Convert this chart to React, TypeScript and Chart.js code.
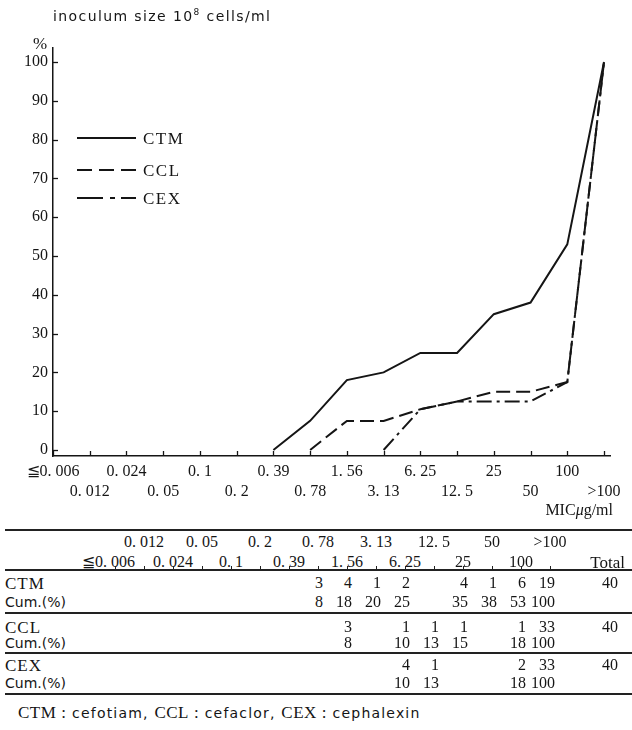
import React, { useEffect, useRef } from "react";
import { Chart, registerables } from "chart.js";

Chart.register(...registerables);

// ---------- data ----------
const categories = [
  "≦0. 006", "0. 012", "0. 024", "0. 05", "0. 1", "0. 2", "0. 39", "0. 78",
  "1. 56", "3. 13", "6. 25", "12. 5", "25", "50", "100", ">100",
];
const yTickValues = [0, 10, 20, 30, 40, 50, 60, 70, 80, 90, 100];

const seriesNames = ["CTM", "CCL", "CEX"];
const drugNames = ["cefotiam", "cefaclor", "cephalexin"];
// cumulative % (null = no point)
const ctmCurve = [null, null, null, null, null, null, 0, 7.5, 18, 20, 25, 25, 35, 38, 53, 100];
const cclCurve = [null, null, null, null, null, null, null, 0, 7.5, 7.5, 10.5, 12.5, 15, 15, 17.5, 100];
const cexCurve = [null, null, null, null, null, null, null, null, null, 0, 10.5, 12.5, 12.5, 12.5, 17.5, 100];

// table rows
const ctmCount = ["", "", "", "", "", "", "", "3", "4", "1", "2", "", "4", "1", "6", "19"];
const ctmCum = ["", "", "", "", "", "", "", "8", "18", "20", "25", "", "35", "38", "53", "100"];
const cclCount = ["", "", "", "", "", "", "", "", "3", "", "1", "1", "1", "", "1", "33"];
const cclCum = ["", "", "", "", "", "", "", "", "8", "", "10", "13", "15", "", "18", "100"];
const cexCount = ["", "", "", "", "", "", "", "", "", "", "4", "1", "", "", "2", "33"];
const cexCum = ["", "", "", "", "", "", "", "", "", "", "10", "13", "", "", "18", "100"];
const totals = ["40", "40", "40"];

const SERIF = '"Liberation Serif", "DejaVu Serif", serif';
const SANS = '"DejaVu Sans", sans-serif';
const INK = "#151515";

const dashes = [[], [14, 6], [15, 5, 3, 5]];
const legendDashes = [[], [15, 7], [26, 7, 5, 6]];

const decorPlugin = {
  id: "decor",
  afterDraw(chart: any) {
    const { ctx, chartArea, scales } = chart;
    const x = scales.x;
    const y = scales.y;
    ctx.save();
    ctx.strokeStyle = INK;
    ctx.lineWidth = 1.3;
    // y tick marks (inside)
    yTickValues.forEach((v) => {
      const py = Math.round(y.getPixelForValue(v)) + 0.5;
      ctx.beginPath();
      ctx.moveTo(chartArea.left, py);
      ctx.lineTo(chartArea.left + 5, py);
      ctx.stroke();
    });
    // x tick marks (upward)
    categories.forEach((_, i) => {
      const px = Math.round(x.getPixelForValue(i)) + 0.5;
      ctx.beginPath();
      ctx.moveTo(px, chartArea.bottom);
      ctx.lineTo(px, chartArea.bottom - 5);
      ctx.stroke();
    });
    // legend
    const lx0 = chartArea.left + 24;
    const lx1 = chartArea.left + 83;
    const lys = [138, 170, 198];
    ctx.lineWidth = 2;
    ctx.font = `17px ${SERIF}`;
    ctx.fillStyle = INK;
    ctx.textBaseline = "middle";
    try { (ctx as any).letterSpacing = "1.5px"; } catch (e) {}
    seriesNames.forEach((name, k) => {
      ctx.setLineDash(legendDashes[k]);
      ctx.beginPath();
      ctx.moveTo(lx0, lys[k]);
      ctx.lineTo(lx1, lys[k]);
      ctx.stroke();
      ctx.setLineDash([]);
      ctx.fillText(name, lx1 + 7, lys[k] + 2);
    });
    ctx.restore();
  },
};

function ChartCanvas() {
  const ref = useRef<HTMLCanvasElement | null>(null);
  useEffect(() => {
    if (!ref.current) return;
    const curves = [ctmCurve, cclCurve, cexCurve];
    const chart = new Chart(ref.current, {
      type: "line",
      data: {
        datasets: curves.map((arr, k) => ({
          label: seriesNames[k],
          data: arr.map((v, i) => ({ x: i, y: v })),
          borderColor: INK,
          borderWidth: 2,
          borderDash: dashes[k],
          pointRadius: 0,
          tension: 0,
          fill: false,
          spanGaps: false,
        })),
      },
      options: {
        animation: false,
        responsive: false,
        maintainAspectRatio: false,
        layout: { padding: { top: 48, right: 22, left: 0, bottom: 0 } },
        plugins: { legend: { display: false }, tooltip: { enabled: false } },
        scales: {
          x: {
            type: "linear",
            min: 0,
            max: 15.163,
            afterBuildTicks: (s: any) => {
              s.ticks = categories.map((_, i) => ({ value: i }));
            },
            afterFit: (s: any) => {
              s.height = 74;
            },
            grid: { display: false, drawTicks: false },
            border: { display: true, color: INK, width: 1.5 },
            ticks: {
              autoSkip: false,
              maxRotation: 0,
              minRotation: 0,
              padding: 6,
              color: INK,
              font: { family: SERIF, size: 16, lineHeight: 1.25 },
              callback: (v: any) => {
                const i = Math.round(Number(v));
                return i % 2 === 0 ? categories[i] : ["", categories[i]];
              },
            },
          },
          y: {
            type: "linear",
            min: -1.55,
            max: 103.6,
            afterBuildTicks: (s: any) => {
              s.ticks = yTickValues.map((v) => ({ value: v }));
            },
            afterFit: (s: any) => {
              s.width = 53;
            },
            grid: { display: false, drawTicks: false },
            border: { display: true, color: INK, width: 1.5 },
            ticks: {
              padding: 5,
              color: INK,
              font: { family: SERIF, size: 16 },
            },
          },
        },
      },
      plugins: [decorPlugin],
    } as any);
    return () => chart.destroy();
  }, []);
  return <canvas ref={ref} width={632} height={530} style={{ display: "block", width: 632, height: 530 }} />;
}

const colX = (i: number) => 115 + 29 * i;

const abs = (extra: React.CSSProperties): React.CSSProperties => ({
  position: "absolute",
  whiteSpace: "nowrap",
  lineHeight: 1,
  color: INK,
  ...extra,
});

function Rule({ y }: { y: number }) {
  return <div style={{ position: "absolute", left: 5, width: 627, top: y - 1, height: 2, background: "#222" }} />;
}

function NumRow({ values, y }: { values: string[]; y: number }) {
  return (
    <>
      {values.map((v, i) =>
        v ? (
          <span
            key={i}
            style={abs({
              left: colX(i) + 5,
              top: y,
              transform: "translate(-100%, -50%)",
              fontFamily: SERIF,
              fontSize: 16,
            })}
          >
            {v}
          </span>
        ) : null
      )}
    </>
  );
}

function Table() {
  const groups = [
    { name: "CTM", count: ctmCount, cum: ctmCum, y: 583 },
    { name: "CCL", count: cclCount, cum: cclCum, y: 627 },
    { name: "CEX", count: cexCount, cum: cexCum, y: 665 },
  ];
  const cumDy = [19, 16, 18];
  return (
    <>
      <Rule y={530} />
      {categories.map((c, i) => {
        const y = i % 2 === 1 ? 542 : 562;
        if (c.startsWith("≦")) {
          return (
            <span key={i} style={abs({ left: colX(i), top: y, transform: "translate(-50%, -50%)", fontFamily: SERIF, fontSize: 16 })}>
              <span style={{ position: "absolute", right: "100%", top: 0 }}>≦</span>
              {c.slice(1)}
            </span>
          );
        }
        return (
          <span key={i} style={abs({ left: colX(i), top: y, transform: "translate(-50%, -50%)", fontFamily: SERIF, fontSize: 16 })}>
            {c}
          </span>
        );
      })}
      <span style={abs({ left: 625, top: 562, transform: "translate(-100%, -50%)", fontFamily: SERIF, fontSize: 17 })}>Total</span>
      <Rule y={570} />
      {categories.map((_, i) => (
        <div key={i} style={{ position: "absolute", left: colX(i), top: 566, width: 1, height: 4, background: "#222" }} />
      ))}
      {groups.map((g, k) => (
        <React.Fragment key={g.name}>
          <span style={abs({ left: 5, top: g.y, transform: "translateY(-50%)", fontFamily: SERIF, fontSize: 17, letterSpacing: 1 })}>{g.name}</span>
          <span style={abs({ left: 5, top: g.y + cumDy[k], transform: "translateY(-50%)", fontFamily: SANS, fontSize: 14 })}>Cum.(%)</span>
          <NumRow values={g.count} y={g.y} />
          <NumRow values={g.cum} y={g.y + cumDy[k]} />
          <span style={abs({ left: 618, top: g.y, transform: "translate(-100%, -50%)", fontFamily: SERIF, fontSize: 16 })}>{totals[k]}</span>
        </React.Fragment>
      ))}
      <Rule y={613} />
      <Rule y={653} />
      <Rule y={694} />
      <div style={abs({ left: 18, top: 712, transform: "translateY(-50%)" })}>
        {seriesNames.map((s, k) => (
          <React.Fragment key={s}>
            <span style={{ fontFamily: SERIF, fontSize: 17, letterSpacing: 0.5 }}>{s}</span>
            <span style={{ fontFamily: SERIF, fontSize: 17, margin: "0 6px 0 5px" }}>:</span>
            <span style={{ fontFamily: SANS, fontSize: 14, letterSpacing: 1.2 }}>
              {drugNames[k]}
              {k < seriesNames.length - 1 ? ", " : ""}
            </span>
          </React.Fragment>
        ))}
      </div>
    </>
  );
}

export default function App() {
  return (
    <div style={{ position: "absolute", left: 0, top: 0, width: 632, height: 730, background: "#fff", overflow: "hidden" }}>
      <ChartCanvas />
      <div style={abs({ left: 53, top: 15, transform: "translateY(-50%)", fontFamily: SANS, fontSize: 14, letterSpacing: 1.4 })}>
        inoculum size 10<sup style={{ fontSize: 9, verticalAlign: 6 }}>8</sup> cells/ml
      </div>
      <div style={abs({ left: 33, top: 43, transform: "translateY(-50%)", fontFamily: SERIF, fontSize: 17 })}>%</div>
      <div style={abs({ left: 613, top: 510, transform: "translate(-100%, -50%)", fontFamily: SERIF, fontSize: 16 })}>
        MIC<i>μ</i>g/ml
      </div>
      <Table />
    </div>
  );
}
